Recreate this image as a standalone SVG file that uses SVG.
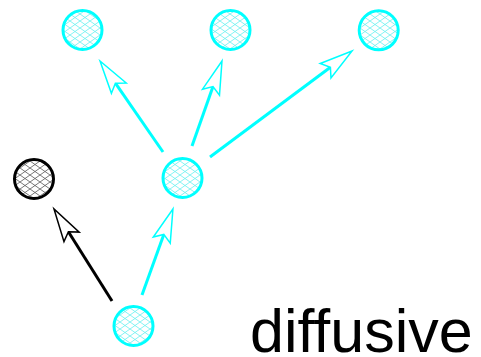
<svg xmlns="http://www.w3.org/2000/svg" width="481" height="357" viewBox="0 0 481 357">
  <style>
    .node-cyan { fill: url(#mesh-cyan); stroke: #00ffff; stroke-width: 3; }
    .node-black { fill: url(#mesh-black); stroke: #000000; stroke-width: 3; }
    .edge-cyan { stroke: #00ffff; stroke-width: 3; fill: none; marker-end: url(#head-cyan); }
    .edge-black { stroke: #000000; stroke-width: 3; fill: none; marker-end: url(#head-black); }
    .label { font-family: "Liberation Sans", Arial, sans-serif; font-size: 61px; fill: #000000; }
  </style>
  <defs>
    <pattern id="mesh-cyan" patternUnits="userSpaceOnUse" width="10" height="7">
      <rect width="10" height="7" fill="#ffffff"/>
      <path d="M0,0 L10,7 M10,0 L0,7" stroke="#66f0f0" stroke-width="0.8" fill="none"/>
    </pattern>
    <pattern id="mesh-black" patternUnits="userSpaceOnUse" width="10" height="7">
      <rect width="10" height="7" fill="#ffffff"/>
      <path d="M0,0 L10,7 M10,0 L0,7" stroke="#555555" stroke-width="0.8" fill="none"/>
    </pattern>
    <marker id="head-cyan" viewBox="-8 -12 40 24" refX="0" refY="0" markerWidth="40" markerHeight="24" markerUnits="userSpaceOnUse" orient="auto" overflow="visible">
      <path d="M27,0 L-6,-9 L0,0 L-6,9 Z" fill="#ffffff" stroke="#00ffff" stroke-width="1.5" stroke-linejoin="miter"/>
    </marker>
    <marker id="head-black" viewBox="-8 -12 40 24" refX="0" refY="0" markerWidth="40" markerHeight="24" markerUnits="userSpaceOnUse" orient="auto" overflow="visible">
      <path d="M27,0 L-6,-9 L0,0 L-6,9 Z" fill="#ffffff" stroke="#000000" stroke-width="1.5" stroke-linejoin="miter"/>
    </marker>
  </defs>

  <g id="connectors">
    <path class="edge-cyan" d="M163,152 L115.4,83.2"/>
    <path class="edge-cyan" d="M192,146 L213,86.5"/>
    <path class="edge-cyan" d="M210,157 L330.4,67.2"/>
    <path class="edge-cyan" d="M142,295 L163.8,234.4"/>
    <path class="edge-black" d="M112,301 L68.4,231.8"/>
  </g>

  <g id="node-top-left"><circle class="node-cyan" cx="82.5" cy="30" r="19.5"/></g>
  <g id="node-top-middle"><circle class="node-cyan" cx="230.5" cy="30" r="19.5"/></g>
  <g id="node-top-right"><circle class="node-cyan" cx="378.7" cy="30.3" r="19.5"/></g>
  <g id="node-middle"><circle class="node-cyan" cx="182.5" cy="178" r="19.5"/></g>
  <g id="node-black"><circle class="node-black" cx="34" cy="179" r="19.5"/></g>
  <g id="node-bottom"><circle class="node-cyan" cx="133.5" cy="326" r="19.5"/></g>

  <text class="label" x="250" y="352">diffusive</text>
</svg>
